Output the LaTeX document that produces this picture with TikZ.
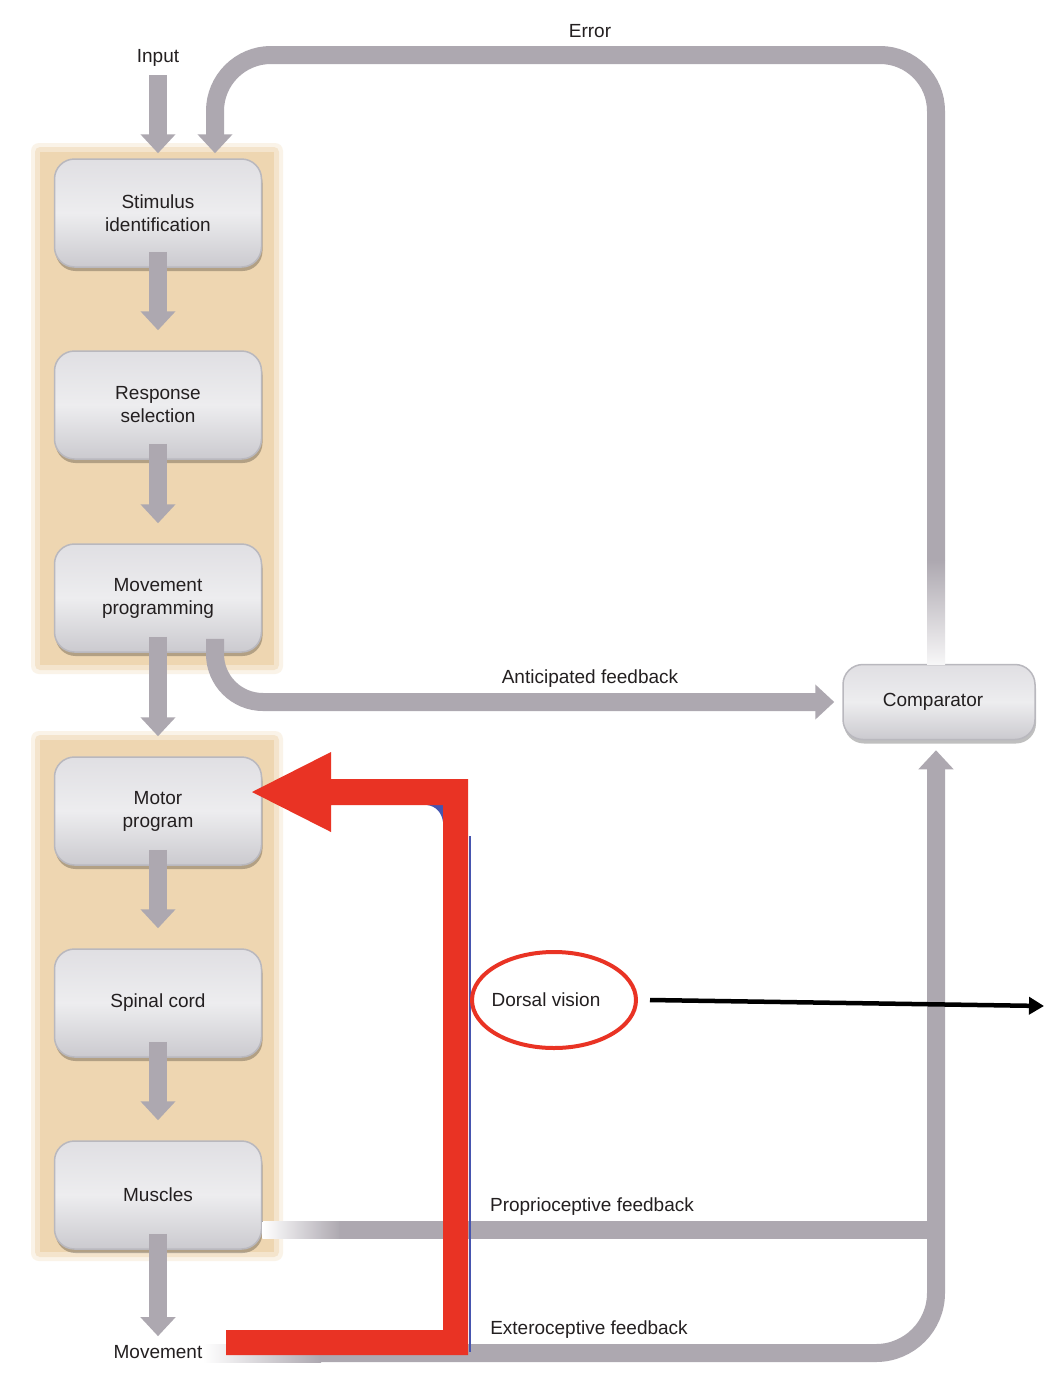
\documentclass[tikz,border=0pt]{standalone}
\usepackage{fontspec}
\setmainfont{Liberation Sans}
\usetikzlibrary{arrows.meta,shapes.geometric,shadows,calc}
\definecolor{garr}{RGB}{173,168,176}
\definecolor{bgtan}{RGB}{238,214,177}
\definecolor{redA}{RGB}{233,51,36}
\definecolor{blueA}{RGB}{70,85,175}
\definecolor{txtc}{RGB}{35,31,32}
\definecolor{boxtop}{RGB}{224,223,227}
\definecolor{boxmid}{RGB}{237,237,239}
\definecolor{boxbot}{RGB}{203,202,207}
\definecolor{boxrim}{RGB}{185,184,190}
\newcommand\mylbl{\fontsize{19}{23}\selectfont}
\tikzset{
  proc/.style={rectangle, rounded corners=20pt, minimum width=207pt, minimum height=108pt,
    top color=boxtop, bottom color=boxbot, middle color=boxmid, draw=boxrim, line width=1.5pt,
    drop shadow={shadow xshift=1pt, shadow yshift=-4pt, fill=black, opacity=0.25},
    align=center, text=txtc, font=\mylbl},
  lbl/.style={text=txtc, font=\mylbl, inner sep=3pt},
  gline/.style={draw=garr, line width=18pt},
  garrow/.style={draw=garr, line width=18pt, -{Triangle[width=34pt,length=19pt]}},
}
\begin{document}
\begin{tikzpicture}[x=1pt,y=-1pt]
\useasboundingbox[fill=white] (0,0) rectangle (1044,1398);
% orange backgrounds (soft edges)
\fill[bgtan!30, rounded corners=8pt] (31,143) rectangle (283,674);
\fill[bgtan!65, rounded corners=5pt] (35,147) rectangle (279,670);
\fill[bgtan] (40,152) rectangle (274,665);
\fill[bgtan!30, rounded corners=8pt] (31,731) rectangle (283,1261);
\fill[bgtan!65, rounded corners=5pt] (35,735) rectangle (279,1257);
\fill[bgtan] (40,740) rectangle (274,1252);

% boxes
\node[proc] (stim)  at (158,213)  {Stimulus\\identification};
\node[proc] (resp)  at (158,405)  {Response\\selection};
\node[proc] (mprog) at (158,598)  {Movement\\programming};
\node[proc] (motor) at (158,811)  {Motor\\program};
\node[proc] (spin)  at (158,1003) {Spinal cord};
\node[proc] (mus)   at (158,1195) {Muscles};
\node[proc, minimum width=192pt, minimum height=75pt] (comp) at (939,702) {\hspace*{-12pt}\raisebox{-3pt}{Comparator}};

% labels
\node[lbl] (inp) at (158,58) {Input};
\node[lbl] (mv) at (158,1352) {Movement};
\node[lbl] at (590,31) {Error};
\node[lbl] at (590,679) {Anticipated feedback};
\node[lbl] at (592,1207) {Proprioceptive feedback};
\node[lbl] at (589,1330) {Exteroceptive feedback};
\node[lbl] (dvt) at (546,1000) {Dorsal vision};

% input
\draw[garrow] (158,75) -- ([yshift=5pt]stim.north);
% chain
\draw[garrow] ([yshift=16pt]stim.south) -- ([yshift=20pt]resp.north);
\draw[garrow] ([yshift=16pt]resp.south) -- ([yshift=20pt]mprog.north);
\draw[garrow] ([yshift=16pt]mprog.south) -- ([yshift=20pt]motor.north);
\draw[garrow] ([yshift=16pt]motor.south) -- ([yshift=20pt]spin.north);
\draw[garrow] ([yshift=16pt]spin.south) -- ([yshift=20pt]mus.north);
\draw[garrow] ([yshift=16pt]mus.south) -- ([yshift=6pt]mv.north);

% error loop
\coordinate (efade) at (936,560);
\draw[garrow, rounded corners=56pt] (efade) -- (936,55) -- (215,55) -- ([xshift=57pt,yshift=5pt]stim.north);
\fill[top color=garr, bottom color=garr!10] (927,560) rectangle (945,664);

% anticipated feedback
\draw[garrow, rounded corners=48pt] ([xshift=57pt,yshift=14pt]mprog.south) |- ([xshift=-8pt]comp.west);

% proprioceptive
\coordinate (pstart) at ([yshift=-34.5pt]mus.east);
\coordinate (pj) at (936,1229.5);
\fill[left color=white, right color=garr] ($(pstart)+(0,-8.5)$) rectangle ($(pstart)+(78,8.5)$);
\draw[gline] ($(pstart)+(77,0)$) -- (pj);

% exteroceptive
\fill[left color=white, right color=garr] (203,1344) rectangle (321,1362);
\draw[garrow, rounded corners=60pt] (320,1353) -- (936,1353) -- ([xshift=-3pt,yshift=-10pt]comp.south);

% red arrow
\fill[blueA] (427,805) .. controls (436,806) and (442,813) .. (443,822) -- (443,805) -- cycle;
\draw[blueA, line width=2pt] (470,836) -- (470,1352);
\fill[redA] (252,792) -- (331,752) -- (331,779) -- (468,779) -- (468,1355) -- (226,1355)
  -- (226,1330) -- (443,1330) -- (443,805) -- (331,805) -- (331,832) -- cycle;

% dorsal vision
\node[draw=redA, line width=4pt, ellipse, minimum width=164pt, minimum height=96pt] (dv) at (554,1000) {};
\coordinate (dvend) at (1044,1006);
\draw[line width=4.5pt, -{Triangle[length=15pt,width=17pt]}] ([xshift=12pt]dv.east) -- (dvend);
\end{tikzpicture}
\end{document}
